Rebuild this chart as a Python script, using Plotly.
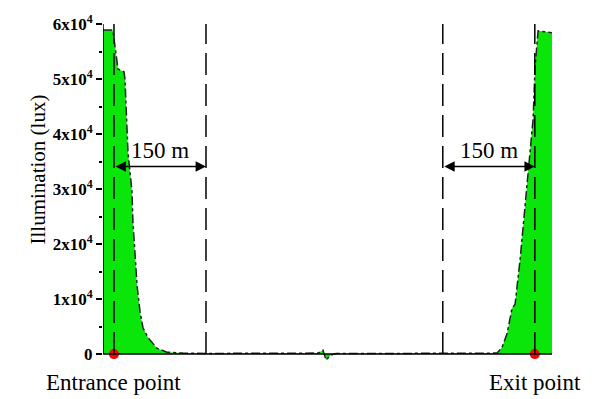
import plotly.graph_objects as go

# Distance along tunnel (m), entrance point at 0
distance = [-17.9, -3.3, -1.6, 6.5, 9.8, 16.3, 17.9, 22.8, 29.3, 31.0, 34.2, 37.5, 42.4, 47.3,
            55.4, 70.0, 86.4, 112.5, 150, 200, 250, 300, 332.5, 340.7, 345.6, 353.7, 362,
            400, 450, 500, 536, 580, 624.5, 632.6, 640.8, 648.9, 653.8, 662.0, 670.0,
            673.4, 678.3, 683.2, 686.4, 691.3, 702.7, 714.0]
illumination = [58900, 58900, 58750, 51840, 51660, 51300, 50060, 36750, 29650, 23790, 18460,
                12600, 7810, 4790, 3020, 1065, 355, 180, 120, 100, 100, 100, 180, 710, -1065,
                -180, 100, 100, 100, 100, 100, 110, 180, 1240, 3730, 8340, 9050, 17220, 27340,
                30360, 36750, 42780, 52190, 58760, 58580, 58400]

ref_lines = [0, 150, 536, 686]          # dashed reference positions (m)
points_x = [0, 686]                      # entrance / exit points
points_label = ["Entrance point", "Exit point"]
spans = [(0, 150), (536, 686)]
span_label = "150 m"

y_tickvals = [0, 10000, 20000, 30000, 40000, 50000, 60000]
y_ticktext = ["<b>0</b>"] + ["<b>%dx10<sup>4</sup></b>" % i for i in range(1, 7)]

FONT = "Liberation Serif, Times New Roman, serif"
XMIN, XMAX = -17.9, 714
YMIN, YMAX = -1800, 60000

fig = go.Figure()
fig.add_trace(go.Scatter(
    x=distance, y=illumination, mode="lines", fill="tozeroy",
    fillcolor="rgb(10,230,10)",
    line=dict(color="#222", width=1.5, dash="dashdot"),
    hoverinfo="skip", showlegend=False))

fig.add_trace(go.Scatter(
    x=points_x, y=[0, 0], mode="markers",
    marker=dict(color="red", size=10), cliponaxis=False, showlegend=False))

shapes = []
for xv in ref_lines:
    shapes.append(dict(type="line", xref="x", yref="y", x0=xv, x1=xv, y0=0, y1=YMAX,
                       line=dict(color="black", width=1.5, dash="22px,9px"), layer="above"))
# axis lines
shapes.append(dict(type="line", xref="x", yref="y", x0=XMIN, x1=XMAX, y0=0, y1=0,
                   line=dict(color="black", width=1.5)))
shapes.append(dict(type="line", xref="x", yref="y", x0=XMIN, x1=XMIN, y0=0, y1=YMAX,
                   line=dict(color="black", width=1.5)))

annotations = []
arrow_y = 34100
for (a, b) in spans:
    annotations.append(dict(x=b, y=arrow_y, ax=a, ay=arrow_y, xref="x", yref="y",
                            axref="x", ayref="y", text="", showarrow=True,
                            arrowhead=2, arrowside="end+start", arrowsize=1.3,
                            arrowwidth=1.6, arrowcolor="black", standoff=0, startstandoff=0))
    annotations.append(dict(x=(a + b) / 2, y=37000, xref="x", yref="y", text=span_label,
                            showarrow=False, font=dict(family=FONT, size=23, color="black")))
for xv, lab in zip(points_x, points_label):
    annotations.append(dict(x=xv, y=-0.055, xref="x", yref="paper", text=lab, showarrow=False,
                            yanchor="middle", font=dict(family=FONT, size=23, color="black")))
annotations.append(dict(x=-0.176, y=0.572, xref="paper", yref="paper",
                        text="Illumination (lux)", textangle=-90, showarrow=False,
                        font=dict(family=FONT, size=21, color="black")))

fig.update_layout(
    width=594, height=399,
    margin=dict(l=103, r=42, t=16, b=35),
    paper_bgcolor="white", plot_bgcolor="white",
    shapes=shapes, annotations=annotations,
    xaxis=dict(range=[XMIN, XMAX], showgrid=False, zeroline=False, showline=False,
               showticklabels=False, ticks=""),
    yaxis=dict(range=[YMIN, YMAX], showgrid=False, zeroline=False, showline=False,
               tickvals=y_tickvals, ticktext=y_ticktext, ticks="outside", ticklen=6,
               tickwidth=1.5, tickcolor="black",
               tickfont=dict(family=FONT, size=17, color="black"),
               minor=dict(ticks="outside", ticklen=3, tickwidth=1.5, tickcolor="black",
                          tickvals=[5000, 15000, 25000, 35000, 45000, 55000])),
)

fig.write_html("out.html")
